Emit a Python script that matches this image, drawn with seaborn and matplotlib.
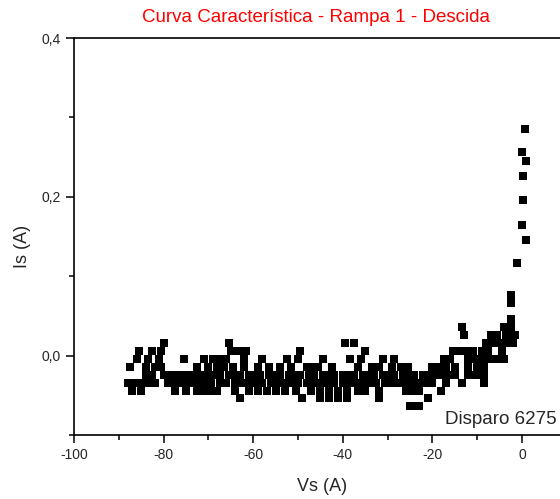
import matplotlib
matplotlib.use('Agg')
from matplotlib import pyplot as plt
from matplotlib.ticker import MultipleLocator
import seaborn as sns
import pandas as pd

# Is levels (A), with the Vs values (A) sitting on each level
lvl_036 = [-13.5, -4]
lvl_026 = [-13, -7, -6, -5.5, -3, -1.5]
lvl_016 = [-80, -65.5, -39.5, -37.5, -8, -6.5, -5, -3.5, -2]
lvl_006 = [-85.5, -82.5, -80.5, -65, -63.5, -61.5, -49.5, -35, -15.5, -14,
           -12.5, -11, -9, -7.5, -4.5]
lvl_m004 = [-86, -83.5, -81, -75.5, -71, -69, -67.5, -66, -62, -58, -52.5,
            -50, -44.5, -38.5, -36, -31, -28.5, -17.5, -16, -12, -10.5, -9.5,
            -8, -6.5, -5.5, -4]
lvl_m014 = [-87.5, -84, -82, -80.5, -72.5, -70, -68, -66.5, -64.5, -62, -59,
            -56.5, -54, -51.5, -48, -46.5, -45.5, -42.5, -36.5, -33.5, -32,
            -29, -27, -25.5, -20, -18.5, -17, -15, -12, -10, -8.5]
lvl_m024 = [-84, -82.5, -80, -79, -77.5, -76, -74, -73, -71.5, -70, -69, -67.5,
            -65.5, -64.5, -63, -61, -60, -58.5, -56.5, -55.5, -54, -52, -51,
            -49.5, -47.5, -46.5, -44.5, -43.5, -42, -40, -39, -37.5, -35.5,
            -34.5, -33, -31, -30, -28.5, -26.5, -25.5, -24, -22, -21, -19.5,
            -18, -16.5, -15, -12, -10.5, -9.5, -8.5]
lvl_m034 = [-88, -86.5, -85, -83.5, -82, -79, -77.5, -76, -74, -72.5, -71,
            -69.5, -67.5, -66, -64, -62.5, -61, -59.5, -58, -56, -54.5, -53,
            -51.5, -50, -48, -46.5, -45, -43.5, -42, -40, -38.5, -37, -35.5,
            -34, -32.5, -30.5, -29, -27.5, -26, -24.5, -23, -21.5, -20, -17,
            -13.5, -8.5]
lvl_m044 = [-87, -85, -77.5, -75, -72.5, -71, -69.5, -68, -64, -61, -59, -57,
            -55, -53, -50.5, -47, -45, -43, -41, -39, -36.5, -35, -32, -26,
            -24, -23, -18]
lvl_m054 = [-63, -49, -45, -43, -41, -39, -32, -21]
lvl_m064 = [-25, -24, -23]

# the steep rise near Vs = 0
vs_rise = [0.7, 0.0, 0.9, 0.3, 0.3, 0.0, 0.8, -1.2, -2.5, -2.5, -2.5, -2.5,
           -3.5]
is_rise = [0.286, 0.256, 0.245, 0.226, 0.196, 0.165, 0.145, 0.116, 0.076,
           0.066, 0.046, 0.036, 0.026]

levels = {0.036: lvl_036, 0.026: lvl_026, 0.016: lvl_016, 0.006: lvl_006,
          -0.004: lvl_m004, -0.014: lvl_m014, -0.024: lvl_m024,
          -0.034: lvl_m034, -0.044: lvl_m044, -0.054: lvl_m054,
          -0.064: lvl_m064}

vs = []
is_ = []
for level, xs in levels.items():
    vs += xs
    is_ += [level] * len(xs)
vs += vs_rise
is_ += is_rise
df = pd.DataFrame({'Vs': vs, 'Is': is_})

x_ticks = [-100, -80, -60, -40, -20, 0]
x_labels = ['-100', '-80', '-60', '-40', '-20', '0']
y_ticks = [0.0, 0.2, 0.4]
y_labels = ['0,0', '0,2', '0,4']

sns.set_style('ticks')
plt.rcParams['font.family'] = ['Liberation Sans', 'DejaVu Sans']

fig = plt.figure(figsize=(5.6, 4.99), dpi=100)
ax = fig.add_axes([74 / 560, 64 / 499, 492.8 / 560, 397 / 499])
sns.scatterplot(data=df, x='Vs', y='Is', marker='s', color='black', s=36,
                linewidth=0, ax=ax)

ax.set_xlim(-100, 10)
ax.set_ylim(-0.1, 0.4)
ax.set_xticks(x_ticks)
ax.set_xticklabels(x_labels)
ax.set_yticks(y_ticks)
ax.set_yticklabels(y_labels)
ax.xaxis.set_minor_locator(MultipleLocator(10))
ax.yaxis.set_minor_locator(MultipleLocator(0.1))
ax.tick_params(which='major', length=6, width=1.1, labelsize=10, color='black')
ax.tick_params(which='minor', length=3.5, width=1.1, color='black')
for side in ['left', 'bottom', 'top']:
    ax.spines[side].set_linewidth(1.2)
    ax.spines[side].set_color('black')
ax.spines['right'].set_visible(False)

ax.set_xlabel('Vs (A)', fontsize=13)
ax.set_ylabel('Is (A)', fontsize=13)
ax.xaxis.set_label_coords((322 - 74) / 492.8, -0.108)
ax.yaxis.set_label_coords((31 - 74) / 492.8, 0.476)

fig.text(316 / 560, 1 - 18 / 499, 'Curva Característica - Rampa 1 - Descida',
         color='red', fontsize=13.5, ha='center', va='center')
ax.text(7.8, -0.0805, 'Disparo 6275', fontsize=13.5, ha='right', va='center')

fig.savefig('out.png', dpi=100)
